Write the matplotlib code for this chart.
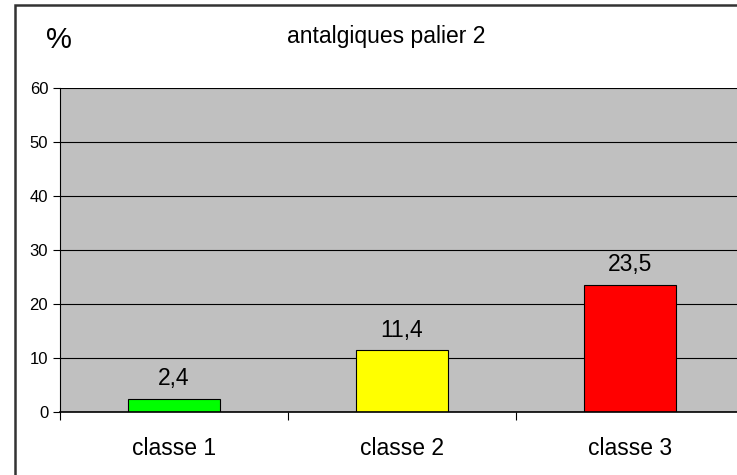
import matplotlib.pyplot as plt
from matplotlib.patches import Rectangle

plt.rcParams['font.family'] = ['Liberation Sans', 'DejaVu Sans']

categories = ['classe 1', 'classe 2', 'classe 3']
values = [2.4, 11.4, 23.5]
colors = ['#00ff00', '#ffff00', '#ff0000']
labels = ['2,4', '11,4', '23,5']

W, H = 737, 475
fig = plt.figure(figsize=(W / 100, H / 100), dpi=100)

# outer chart border (cut by the image on right and bottom)
fig.patches.append(Rectangle((15 / W, -0.05), 1.1, 1 - 5 / H + 0.05,
                             transform=fig.transFigure, fill=False,
                             edgecolor='#333333', linewidth=1.8))

ax = fig.add_axes([60 / W, (H - 412) / H, 684 / W, 324 / H])
ax.set_facecolor('#c0c0c0')

x = range(len(categories))
ax.bar(x, values, width=0.4, color=colors, edgecolor='black', linewidth=0.8, zorder=3)
for xi, v, lab in zip(x, values, labels):
    ax.text(xi, v + 1.6, lab, ha='center', va='bottom', fontsize=16.5, zorder=4)

ax.set_xlim(-0.5, 2.5)
ax.set_ylim(0, 60)
ax.set_yticks(range(0, 61, 10))
ax.yaxis.grid(True, color='black', linewidth=0.8, zorder=1)
ax.tick_params(axis='y', labelsize=12, length=5, width=0.8, direction='out', pad=3.5)

ax.set_xticks([-0.5, 0.5, 1.5, 2.5])
ax.set_xticklabels([])
ax.set_xticks(list(x), minor=True)
ax.set_xticklabels(categories, minor=True, fontsize=16.5)
ax.tick_params(axis='x', which='major', length=6, width=0.8, direction='out')
ax.tick_params(axis='x', which='minor', length=0, pad=18)

for side in ['top', 'right']:
    ax.spines[side].set_visible(False)
ax.spines['left'].set_linewidth(0.8)
ax.spines['bottom'].set_linewidth(1.2)
ax.spines['bottom'].set_zorder(5)

fig.text(386 / W, 1 - 36 / H, 'antalgiques palier 2', ha='center', va='center', fontsize=16.5)
fig.text(59 / W, 1 - 40 / H, '%', ha='center', va='center', fontsize=21)

fig.savefig('out.png', dpi=100)
